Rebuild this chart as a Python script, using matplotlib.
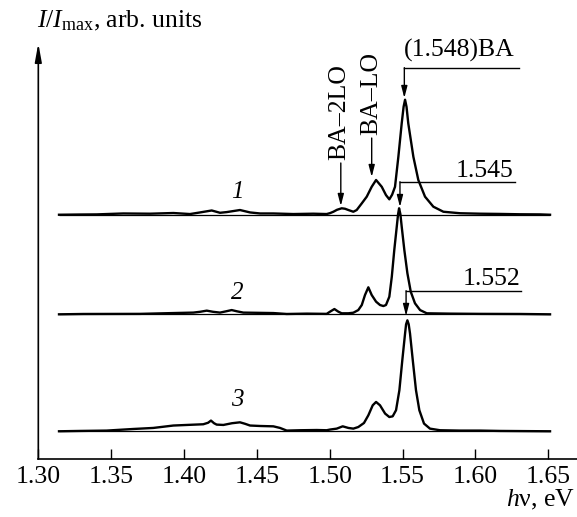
import matplotlib
matplotlib.use("Agg")
import matplotlib.pyplot as plt
import numpy as np

plt.rcParams['font.family'] = ['Liberation Serif', 'DejaVu Serif']
plt.rcParams['font.size'] = 18.5
plt.rcParams['mathtext.fontset'] = 'custom'
plt.rcParams['mathtext.rm'] = 'Liberation Serif'
plt.rcParams['mathtext.it'] = 'Liberation Serif:italic'

# photon energy (eV) and normalized intensity for the three spectra
e1 = [1.3142, 1.3286, 1.3401, 1.3583, 1.3767, 1.3927, 1.4041, 1.4110, 1.4190, 1.4247,
      1.4293, 1.4384, 1.4453, 1.4522, 1.4613, 1.4750, 1.4887, 1.4979, 1.5002, 1.5025,
      1.5050, 1.5082, 1.5105, 1.5128, 1.5162, 1.5185, 1.5220, 1.5254, 1.5288, 1.5318,
      1.5357, 1.5386, 1.5409, 1.5428, 1.5448, 1.5471, 1.5494, 1.5507, 1.5517, 1.5527,
      1.5539, 1.5574, 1.5608, 1.5654, 1.5711, 1.5780, 1.5894, 1.6032, 1.6169, 1.6306,
      1.6443, 1.6512]
i1 = [0.000, 0.002, 0.003, 0.011, 0.009, 0.015, 0.006, 0.020, 0.037, 0.017,
      0.023, 0.041, 0.020, 0.011, 0.011, 0.006, 0.009, 0.006, 0.014, 0.026,
      0.043, 0.056, 0.052, 0.041, 0.026, 0.041, 0.099, 0.157, 0.243, 0.302,
      0.243, 0.171, 0.134, 0.174, 0.243, 0.504, 0.795, 0.939, 1.000, 0.939,
      0.795, 0.504, 0.302, 0.157, 0.070, 0.026, 0.013, 0.009, 0.007, 0.004,
      0.003, 0.000]

e2 = [1.3142, 1.3309, 1.3698, 1.3927, 1.4064, 1.4110, 1.4156, 1.4199, 1.4247, 1.4288,
      1.4327, 1.4364, 1.4407, 1.4613, 1.4705, 1.4842, 1.4979, 1.5002, 1.5032, 1.5059,
      1.5082, 1.5128, 1.5162, 1.5196, 1.5220, 1.5242, 1.5265, 1.5288, 1.5318, 1.5345,
      1.5368, 1.5386, 1.5409, 1.5426, 1.5443, 1.5460, 1.5469, 1.5476, 1.5485, 1.5494,
      1.5512, 1.5533, 1.5556, 1.5585, 1.5620, 1.5666, 1.5826, 1.6032, 1.6306, 1.6512]
i2 = [0.000, 0.003, 0.004, 0.011, 0.015, 0.022, 0.032, 0.022, 0.015, 0.026,
      0.037, 0.026, 0.015, 0.011, 0.003, 0.006, 0.004, 0.023, 0.046, 0.023,
      0.009, 0.009, 0.014, 0.037, 0.081, 0.168, 0.235, 0.168, 0.110, 0.081,
      0.072, 0.081, 0.153, 0.327, 0.559, 0.762, 0.870, 0.922, 0.870, 0.762,
      0.559, 0.357, 0.197, 0.096, 0.037, 0.009, 0.006, 0.004, 0.003, 0.000]

e3 = [1.3142, 1.3286, 1.3469, 1.3652, 1.3789, 1.3927, 1.4019, 1.4132, 1.4165, 1.4185,
      1.4206, 1.4224, 1.4270, 1.4329, 1.4384, 1.4419, 1.4453, 1.4522, 1.4613, 1.4659,
      1.4705, 1.4796, 1.4911, 1.4979, 1.5002, 1.5048, 1.5089, 1.5128, 1.5162, 1.5196,
      1.5235, 1.5265, 1.5295, 1.5318, 1.5345, 1.5380, 1.5409, 1.5432, 1.5455, 1.5478,
      1.5498, 1.5517, 1.5524, 1.5533, 1.5542, 1.5551, 1.5570, 1.5592, 1.5615, 1.5647,
      1.5688, 1.5757, 1.5894, 1.6032, 1.6169, 1.6512]
i3 = [0.000, 0.003, 0.006, 0.020, 0.029, 0.050, 0.055, 0.061, 0.074, 0.093,
      0.070, 0.058, 0.055, 0.070, 0.078, 0.065, 0.050, 0.046, 0.043, 0.029,
      0.006, 0.009, 0.011, 0.009, 0.015, 0.023, 0.043, 0.029, 0.023, 0.037,
      0.072, 0.139, 0.226, 0.255, 0.226, 0.154, 0.124, 0.130, 0.183, 0.357,
      0.617, 0.850, 0.930, 0.965, 0.930, 0.850, 0.617, 0.357, 0.183, 0.067,
      0.023, 0.009, 0.006, 0.006, 0.003, 0.000]

energies = [e1, e2, e3]
intensities = [i1, i2, i3]
offsets = [2.124, 1.258, 0.241]
curve_labels = ['1', '2', '3']

xticks = [1.30, 1.35, 1.40, 1.45, 1.50, 1.55, 1.60, 1.65]
xtick_labels = ['1.30', '1.35', '1.40', '1.45', '1.50', '1.55', '1.60', '1.65']

fig = plt.figure(figsize=(5.77, 5.17), dpi=100)
ax = fig.add_axes([0.0664, 0.1122, 0.9336, 0.8041])

for e, inten, off in zip(energies, intensities, offsets):
    e = np.array(e)
    inten = np.array(inten)
    ax.hlines(off, e[0], e[-1], color='k', lw=0.9)
    ax.plot(e, off + inten, color='k', lw=1.7, solid_joinstyle='round')

# номера кривых
for lab, off in zip(curve_labels, [2.322, 1.443, 0.513]):
    ax.text(1.4368, off, lab, style='italic', ha='center', va='center', fontsize=18)

arr = dict(arrowstyle='-|>,head_length=0.7,head_width=0.18', color='k', lw=1.0,
           shrinkA=0, shrinkB=0, mutation_scale=10)

# (1.548)BA
ax.text(1.5512, 3.498, '(1.548)BA', ha='left', va='baseline')
ax.plot([1.5512, 1.6301], [3.403, 3.403], color='k', lw=1.0)
ax.annotate('', xy=(1.5512, 3.139), xytext=(1.5512, 3.403), arrowprops=arr)

# 1.545
ax.text(1.6258, 2.455, '1.545', ha='right', va='baseline')
ax.plot([1.5482, 1.6272], [2.411, 2.411], color='k', lw=1.0)
ax.annotate('', xy=(1.5482, 2.191), xytext=(1.5482, 2.411), arrowprops=arr)

# 1.552
ax.text(1.6306, 1.513, '1.552', ha='right', va='baseline')
ax.plot([1.5524, 1.6311], [1.4635, 1.4635], color='k', lw=1.0)
ax.annotate('', xy=(1.5524, 1.2435), xytext=(1.5524, 1.4635), arrowprops=arr)

# фононные повторения
ax.text(1.5064, 3.013, 'BA–2LO', rotation=90, ha='center', va='center')
ax.annotate('', xy=(1.5076, 2.20), xytext=(1.5076, 2.574), arrowprops=arr)
ax.text(1.5287, 3.174, 'BA–LO', rotation=90, ha='center', va='center')
ax.annotate('', xy=(1.5288, 2.452), xytext=(1.5288, 2.791), arrowprops=arr)

ax.set_xlim(1.30, 1.6697)
ax.set_ylim(0, 3.615)
ax.set_xticks(xticks)
ax.set_xticklabels(xtick_labels)
ax.set_yticks([])
ax.tick_params(axis='x', direction='in', length=7, width=1.0, pad=5)
for s in ['top', 'right', 'left']:
    ax.spines[s].set_visible(False)
ax.spines['bottom'].set_linewidth(1.2)

# ось Y со стрелкой
ax.annotate('', xy=(0, 1), xytext=(0, 0), xycoords='axes fraction',
            arrowprops=dict(arrowstyle='-|>,head_length=1.1,head_width=0.2', color='k',
                            lw=1.2, shrinkA=0, shrinkB=0, mutation_scale=10))

fig.text(0.0636, 0.947, r'$I/I_{\mathrm{max}}$, arb. units', ha='left', va='baseline')
fig.text(0.9965, 0.0203, r'$h$ν, eV', ha='right', va='baseline')

fig.savefig('out.png', dpi=100)
